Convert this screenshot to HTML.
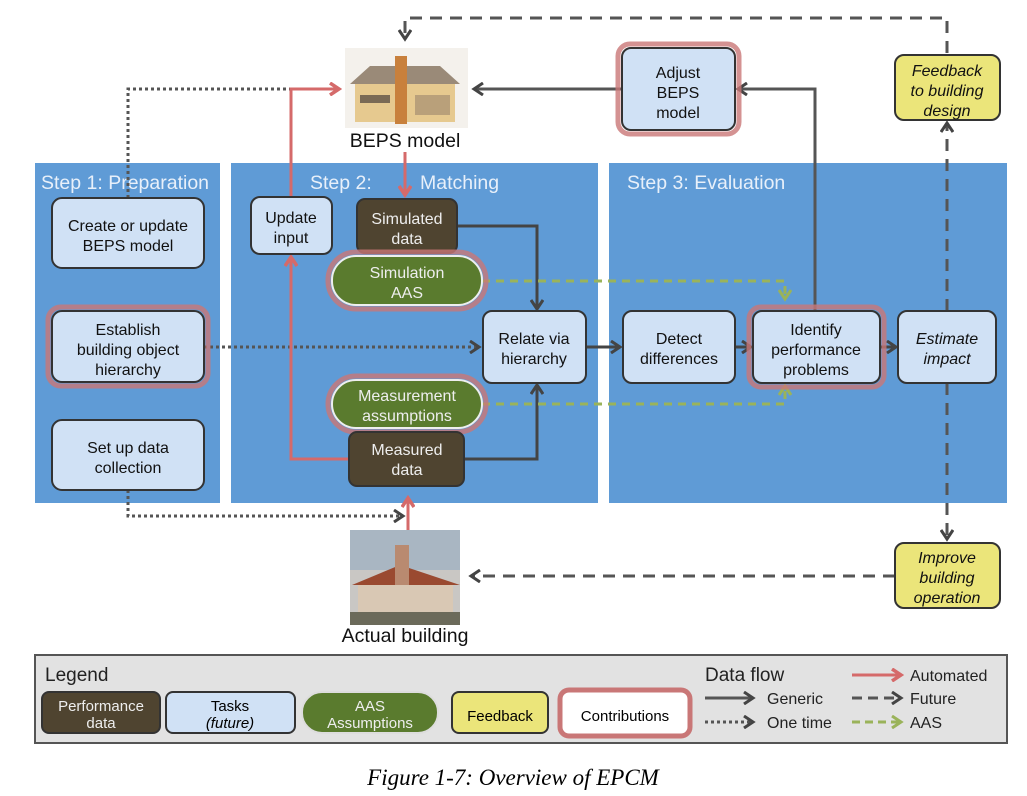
<!DOCTYPE html>
<html><head><meta charset="utf-8"><style>
body{margin:0;background:#fff;}
svg{display:block;font-family:"Liberation Sans",sans-serif;}
</style></head><body>
<svg width="1027" height="796" viewBox="0 0 1027 796" xmlns="http://www.w3.org/2000/svg">
<defs>
<marker id="ad" markerWidth="14" markerHeight="14" refX="10" refY="7" orient="auto" markerUnits="userSpaceOnUse"><path d="M2,1 L11,7 L2,13" fill="none" stroke="#444" stroke-width="3"/></marker>
<marker id="ar" markerWidth="14" markerHeight="14" refX="10" refY="7" orient="auto" markerUnits="userSpaceOnUse"><path d="M2,1 L11,7 L2,13" fill="none" stroke="#d56a6a" stroke-width="3.5"/></marker>
<marker id="ag" markerWidth="14" markerHeight="14" refX="10" refY="7" orient="auto" markerUnits="userSpaceOnUse"><path d="M2,1 L11,7 L2,13" fill="none" stroke="#9ab35a" stroke-width="3"/></marker>
</defs>
<rect width="1027" height="796" fill="#fff"/>
<rect x="35" y="163" width="185" height="340" fill="#5f9bd6"/>
<rect x="231" y="163" width="367" height="340" fill="#5f9bd6"/>
<rect x="609" y="163" width="398" height="340" fill="#5f9bd6"/>
<g fill="#e8f0fa" font-size="19.5">
<text x="41" y="189">Step 1:  Preparation</text>
<text x="310" y="189">Step 2:</text><text x="420" y="189">Matching</text>
<text x="627" y="189">Step 3:  Evaluation</text>
</g>
<g fill="none" stroke-width="3">
<path d="M947,53 V18 H405 V38" stroke="#555" stroke-dasharray="12,8" marker-end="url(#ad)"/>
<path d="M622,89 H475" stroke="#555" marker-end="url(#ad)"/>
<path d="M815,311 V89 H739" stroke="#555" marker-end="url(#ad)"/>
<path d="M947,311 V124" stroke="#555" stroke-dasharray="12,8" marker-end="url(#ad)"/>
<path d="M947,383 V538" stroke="#555" stroke-dasharray="12,8" marker-end="url(#ad)"/>
<path d="M895,576 H472" stroke="#555" stroke-dasharray="12,8" marker-end="url(#ad)"/>
<path d="M128,198 V89 H300" stroke="#555" stroke-dasharray="3,3"/>
<path d="M204,347 H478" stroke="#555" stroke-dasharray="3,3" marker-end="url(#ad)"/>
<path d="M128,490 V516 H402" stroke="#555" stroke-dasharray="3,3" marker-end="url(#ad)"/>
<path d="M457,226 H537 V308" stroke="#444" marker-end="url(#ad)"/>
<path d="M464,459 H537 V386" stroke="#444" marker-end="url(#ad)"/>
<path d="M586,347 H619" stroke="#444" marker-end="url(#ad)"/>
<path d="M735,347 H750" stroke="#444" marker-end="url(#ad)"/>
<path d="M880,347 H895" stroke="#444" marker-end="url(#ad)"/>
<path d="M482,281 H785 V298" stroke="#9ab35a" stroke-dasharray="8,6" marker-end="url(#ag)"/>
<path d="M482,404 H785 V387" stroke="#9ab35a" stroke-dasharray="8,6" marker-end="url(#ag)"/>
<path d="M405,152 V194" stroke="#d56a6a" marker-end="url(#ar)"/>
<path d="M291,197 V89 H338" stroke="#d56a6a" marker-end="url(#ar)"/>
<path d="M349,459 H291 V258" stroke="#d56a6a" marker-end="url(#ar)"/>
<path d="M408,530 V499" stroke="#d56a6a" marker-end="url(#ar)"/>
</g>
<g stroke="#333" stroke-width="2">
<rect x="52" y="198" width="152" height="70" rx="10" fill="#d0e1f5"/>
<rect x="48" y="307" width="160" height="79" rx="13" fill="none" stroke="#c97777" stroke-width="5" opacity="0.8"/>
<rect x="52" y="311" width="152" height="71" rx="10" fill="#d0e1f5"/>
<rect x="52" y="420" width="152" height="70" rx="10" fill="#d0e1f5"/>
<rect x="251" y="197" width="81" height="57" rx="9" fill="#d0e1f5"/>
<rect x="357" y="199" width="100" height="54" rx="8" fill="#4f4430"/>
<rect x="328" y="252" width="158" height="57" rx="28" fill="none" stroke="#c97777" stroke-width="5" opacity="0.8"/>
<rect x="332" y="256" width="150" height="49" rx="24" fill="#5a7b2e" stroke="#eee"/>
<rect x="483" y="311" width="103" height="72" rx="9" fill="#d0e1f5"/>
<rect x="328" y="376" width="158" height="56" rx="28" fill="none" stroke="#c97777" stroke-width="5" opacity="0.8"/>
<rect x="332" y="380" width="150" height="48" rx="24" fill="#5a7b2e" stroke="#eee"/>
<rect x="349" y="432" width="115" height="54" rx="8" fill="#4f4430"/>
<rect x="623" y="311" width="112" height="72" rx="9" fill="#d0e1f5"/>
<rect x="749" y="307" width="135" height="80" rx="12" fill="none" stroke="#c97777" stroke-width="5" opacity="0.8"/>
<rect x="753" y="311" width="127" height="72" rx="9" fill="#d0e1f5"/>
<rect x="898" y="311" width="98" height="72" rx="9" fill="#d0e1f5"/>
<rect x="618" y="44" width="121" height="90" rx="12" fill="none" stroke="#c97777" stroke-width="5" opacity="0.8"/>
<rect x="622" y="48" width="113" height="82" rx="9" fill="#d0e1f5"/>
<rect x="895" y="55" width="105" height="65" rx="9" fill="#ebe57a"/>
<rect x="895" y="543" width="105" height="65" rx="9" fill="#ebe57a"/>
</g>
<g font-size="16" text-anchor="middle" fill="#111">
<text x="128" y="231">Create or update</text><text x="128" y="251">BEPS model</text>
<text x="128" y="335">Establish</text><text x="128" y="355">building object</text><text x="128" y="375">hierarchy</text>
<text x="128" y="453">Set up data</text><text x="128" y="473">collection</text>
<text x="291" y="223">Update</text><text x="291" y="243">input</text>
<text x="534" y="344">Relate via</text><text x="534" y="364">hierarchy</text>
<text x="679" y="344">Detect</text><text x="679" y="364">differences</text>
<text x="816" y="335">Identify</text><text x="816" y="355">performance</text><text x="816" y="375">problems</text>
<text x="947" y="344" font-style="italic">Estimate</text><text x="947" y="364" font-style="italic">impact</text>
<text x="678" y="78">Adjust</text><text x="678" y="98">BEPS</text><text x="678" y="118">model</text>
<g font-style="italic"><text x="947" y="76">Feedback</text><text x="947" y="96">to building</text><text x="947" y="116">design</text>
<text x="947" y="563">Improve</text><text x="947" y="583">building</text><text x="947" y="603">operation</text></g>
<g fill="#eee"><text x="407" y="224">Simulated</text><text x="407" y="244">data</text>
<text x="407" y="278">Simulation</text><text x="407" y="298">AAS</text>
<text x="407" y="401">Measurement</text><text x="407" y="421">assumptions</text>
<text x="407" y="455">Measured</text><text x="407" y="475">data</text></g>
<text x="405" y="147" font-size="19.5">BEPS model</text>
<text x="405" y="642" font-size="19.5">Actual building</text>
</g>
<rect x="345" y="48" width="123" height="80" fill="#f4f1ec"/>
<polygon points="350,84 460,84 440,66 370,66" fill="#9a8a78"/>
<rect x="355" y="84" width="100" height="38" fill="#e6c98f"/>
<rect x="395" y="56" width="12" height="68" fill="#c8803c"/>
<rect x="360" y="95" width="30" height="8" fill="#7a6a55"/>
<rect x="415" y="95" width="35" height="20" fill="#b9a07a"/>
<rect x="350" y="530" width="110" height="95" fill="#c9c7c4"/>
<rect x="350" y="530" width="110" height="40" fill="#a9b6c2"/>
<polygon points="352,585 400,565 460,585" fill="#9a4a30"/>
<rect x="395" y="545" width="14" height="70" fill="#b98a70"/>
<rect x="358" y="585" width="95" height="30" fill="#d9c8b4"/>
<rect x="350" y="612" width="110" height="13" fill="#6b6a5a"/>
<rect x="35" y="655" width="972" height="88" fill="#e2e2e2" stroke="#555" stroke-width="2"/>
<text x="45" y="681" font-size="19" fill="#222">Legend</text>
<text x="705" y="681" font-size="19" fill="#222">Data flow</text>
<g stroke="#333" stroke-width="2">
<rect x="42" y="692" width="118" height="41" rx="7" fill="#4f4430"/>
<rect x="166" y="692" width="129" height="41" rx="7" fill="#d0e1f5"/>
<rect x="302" y="692" width="136" height="41" rx="20" fill="#5a7b2e" stroke="#ddd"/>
<rect x="452" y="692" width="96" height="41" rx="7" fill="#ebe57a"/>
<rect x="560" y="690" width="130" height="46" rx="9" fill="#fff" stroke="#c97777" stroke-width="5"/>
</g>
<g font-size="15" text-anchor="middle">
<text x="101" y="711" fill="#eee">Performance</text><text x="101" y="728" fill="#eee">data</text>
<text x="230" y="711">Tasks</text><text x="230" y="728" font-style="italic">(future)</text>
<text x="370" y="711" fill="#eee">AAS</text><text x="370" y="728" fill="#eee">Assumptions</text>
<text x="500" y="721">Feedback</text>
<text x="625" y="721">Contributions</text>
</g>
<g fill="none" stroke-width="3">
<path d="M705,698 H752" stroke="#555" marker-end="url(#ad)"/>
<path d="M705,722 H752" stroke="#555" stroke-dasharray="3,3" marker-end="url(#ad)"/>
<path d="M852,675 H900" stroke="#d56a6a" marker-end="url(#ar)"/>
<path d="M852,698 H900" stroke="#555" stroke-dasharray="10,6" marker-end="url(#ad)"/>
<path d="M852,722 H900" stroke="#9ab35a" stroke-dasharray="8,5" marker-end="url(#ag)"/>
</g>
<g font-size="16" fill="#222">
<text x="767" y="704">Generic</text><text x="767" y="728">One time</text>
<text x="910" y="681">Automated</text><text x="910" y="704">Future</text><text x="910" y="728">AAS</text>
</g>
<text x="513" y="785" font-family="Liberation Serif,serif" font-style="italic" font-size="23" text-anchor="middle">Figure 1-7: Overview of EPCM</text>
</svg>
</body></html>
